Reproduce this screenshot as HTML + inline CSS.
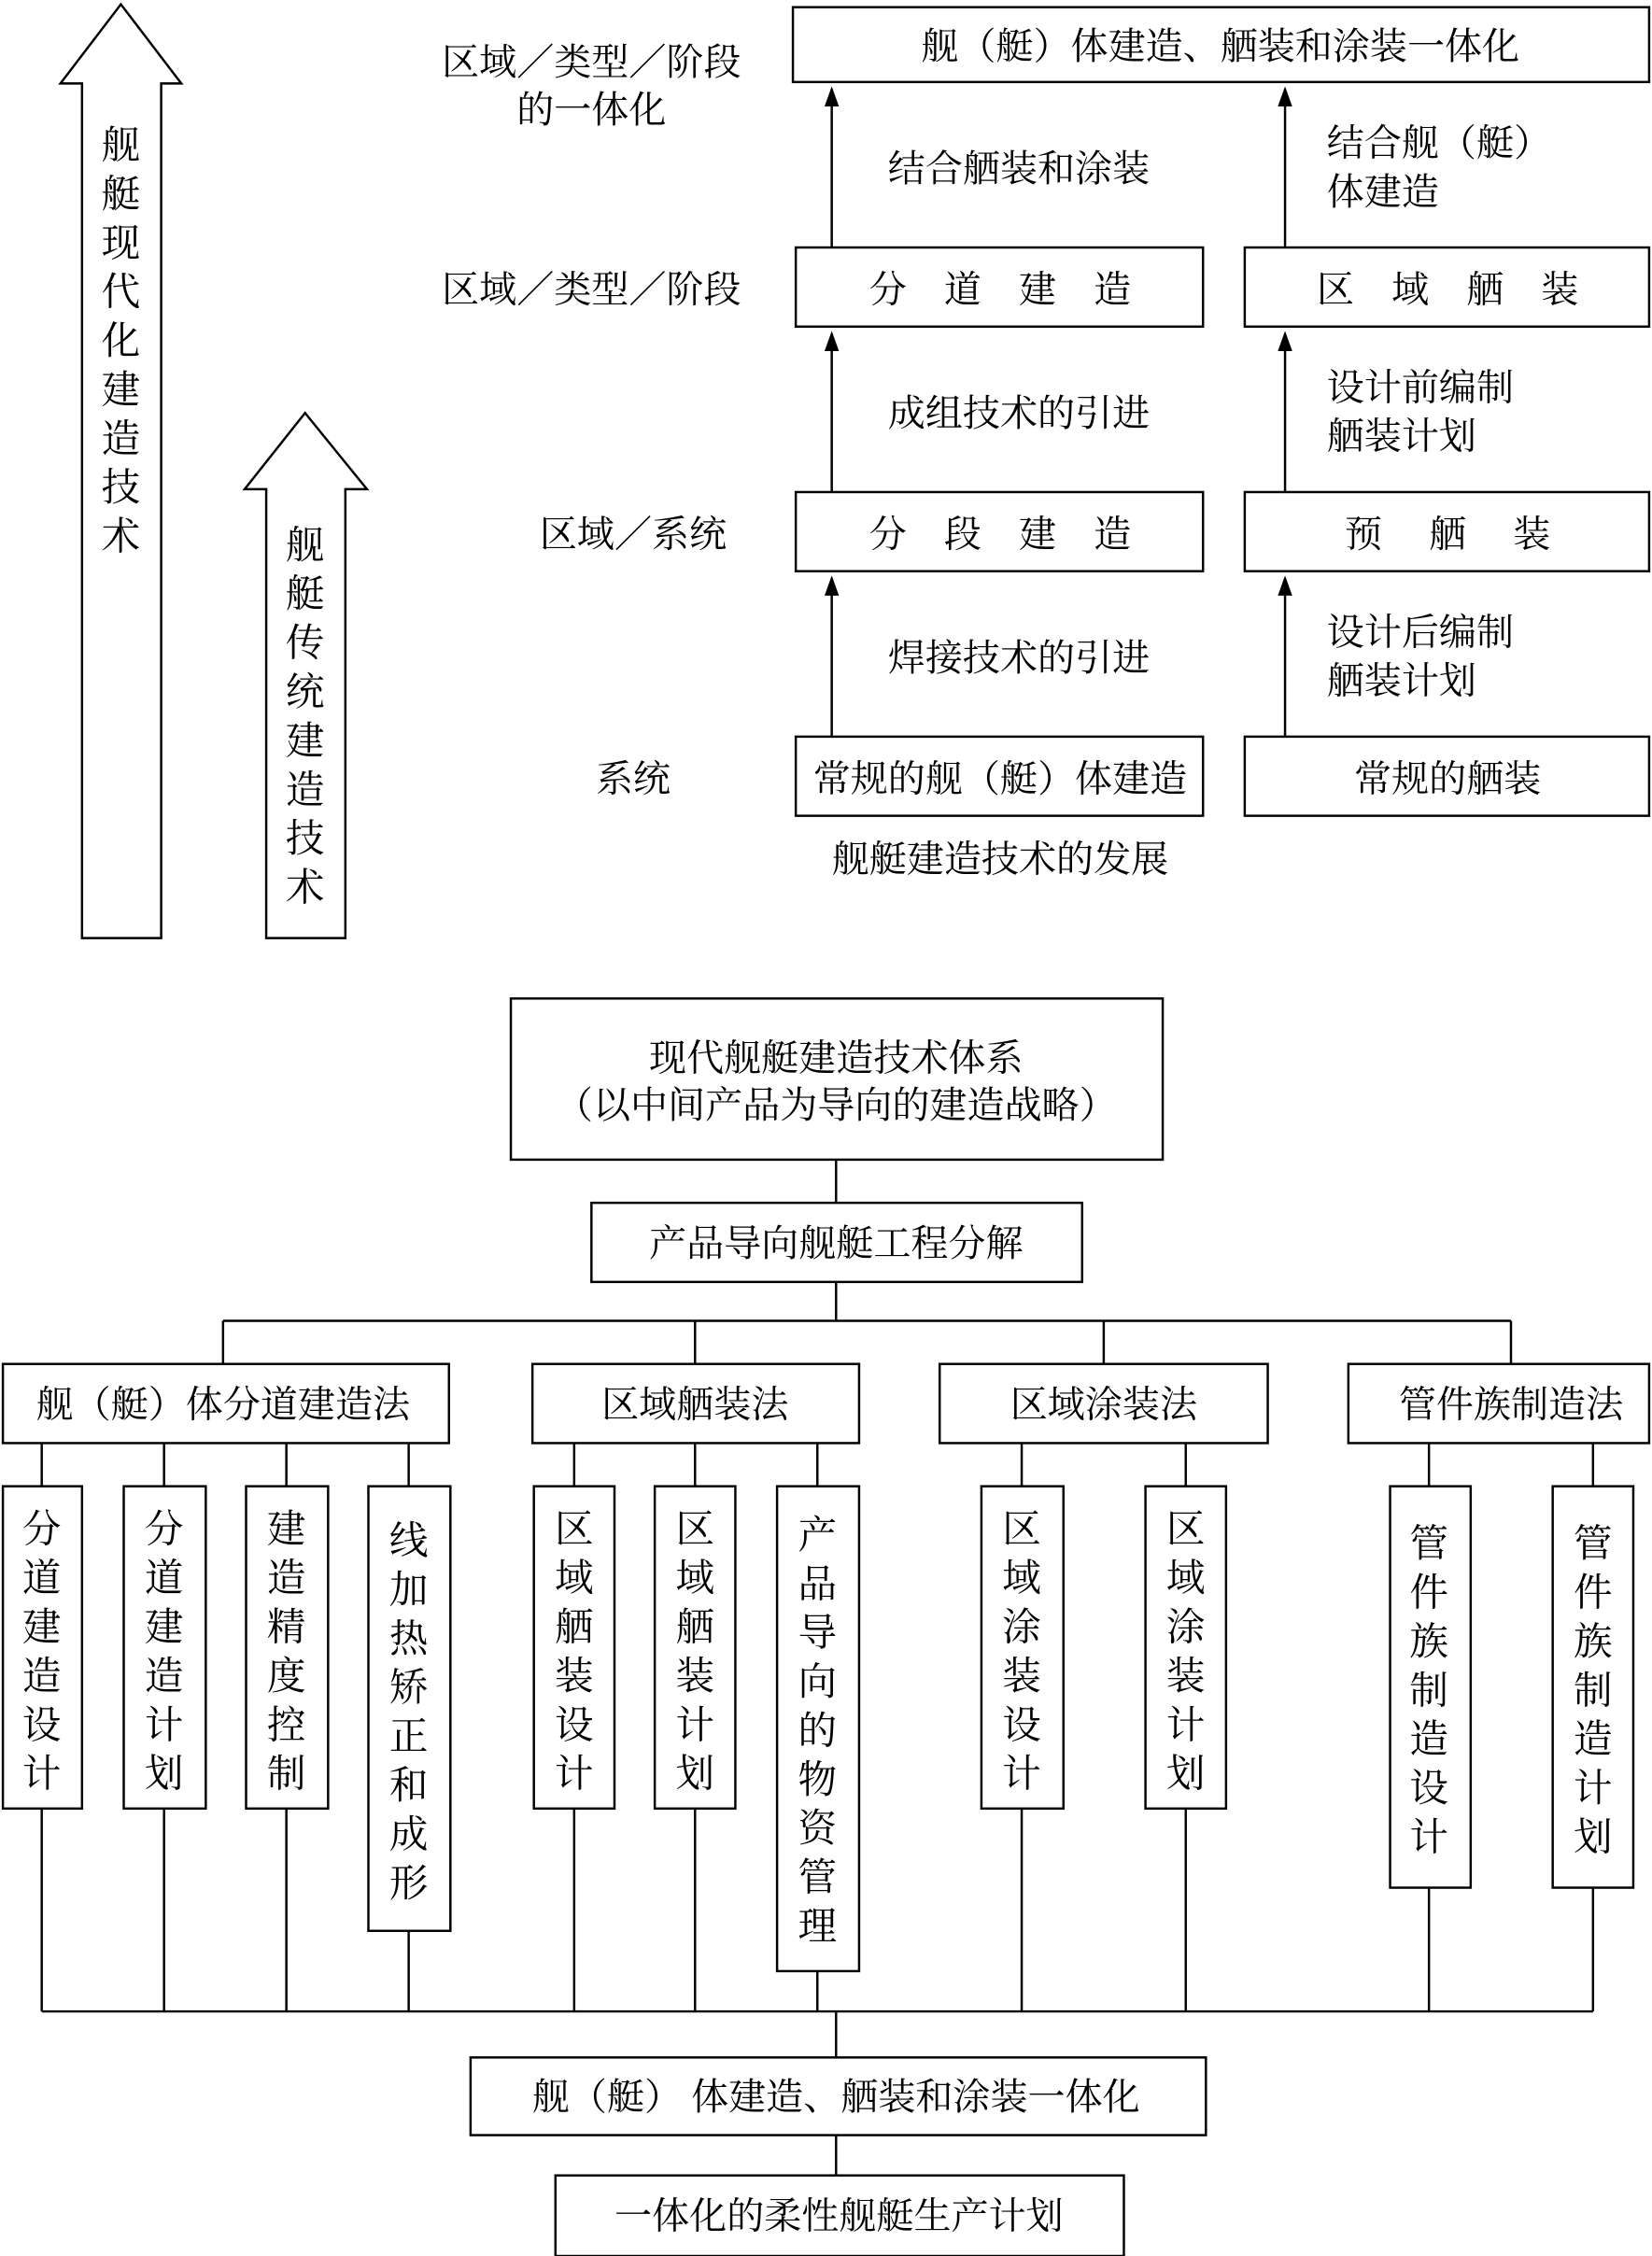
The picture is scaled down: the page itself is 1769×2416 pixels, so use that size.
<!DOCTYPE html>
<html><head><meta charset="utf-8">
<style>
html,body{margin:0;padding:0;background:#fff;}
svg{display:block;}
text{font-family:"Liberation Serif","Noto Serif CJK SC","Noto Sans CJK SC",serif;fill:#000;}
</style></head><body>
<svg width="1769" height="2416" viewBox="0 0 1148 1568" preserveAspectRatio="none" xmlns="http://www.w3.org/2000/svg">
<g fill="none" stroke="#000" stroke-width="1.6">
<!-- big arrows -->
<polygon points="84,3 126,58 112,58 112,652 57,652 57,58 42,58"/>
<polygon points="212,287 255,340 240,340 240,652 185,652 185,340 170,340"/>
<!-- top boxes -->
<rect x="551" y="5" width="595" height="52"/>
<rect x="553" y="172" width="283" height="55"/>
<rect x="865" y="172" width="281" height="55"/>
<rect x="553" y="342" width="283" height="55"/>
<rect x="865" y="342" width="281" height="55"/>
<rect x="553" y="512" width="283" height="55"/>
<rect x="865" y="512" width="281" height="55"/>
<!-- arrows -->
<line x1="578" y1="172" x2="578" y2="62"/><line x1="893" y1="172" x2="893" y2="62"/>
<line x1="578" y1="342" x2="578" y2="232"/><line x1="893" y1="342" x2="893" y2="232"/>
<line x1="578" y1="512" x2="578" y2="402"/><line x1="893" y1="512" x2="893" y2="402"/>
<!-- bottom -->
<rect x="355" y="694" width="453" height="112"/>
<line x1="581" y1="806" x2="581" y2="836"/>
<rect x="411" y="836" width="341" height="55"/>
<line x1="581" y1="891" x2="581" y2="918"/>
<line x1="155" y1="918" x2="1050" y2="918"/>
<line x1="155" y1="918" x2="155" y2="948"/><line x1="483" y1="918" x2="483" y2="948"/>
<line x1="767" y1="918" x2="767" y2="948"/><line x1="1050" y1="918" x2="1050" y2="948"/>
<rect x="2" y="948" width="310" height="55"/>
<rect x="370" y="948" width="227" height="55"/>
<rect x="653" y="948" width="228" height="55"/>
<rect x="937" y="948" width="209" height="55"/>
<!-- sub boxes -->
<rect x="2" y="1033" width="55" height="224"/>
<rect x="86" y="1033" width="57" height="224"/>
<rect x="171" y="1033" width="57" height="224"/>
<rect x="256" y="1033" width="57" height="309"/>
<rect x="371" y="1033" width="56" height="224"/>
<rect x="455" y="1033" width="56" height="224"/>
<rect x="540" y="1033" width="57" height="337"/>
<rect x="682" y="1033" width="57" height="224"/>
<rect x="796" y="1033" width="56" height="224"/>
<rect x="966" y="1033" width="56" height="279"/>
<rect x="1079" y="1033" width="56" height="279"/>
<!-- top connectors -->
<line x1="29" y1="1003" x2="29" y2="1033"/><line x1="114" y1="1003" x2="114" y2="1033"/>
<line x1="199" y1="1003" x2="199" y2="1033"/><line x1="284" y1="1003" x2="284" y2="1033"/>
<line x1="399" y1="1003" x2="399" y2="1033"/><line x1="483" y1="1003" x2="483" y2="1033"/>
<line x1="568" y1="1003" x2="568" y2="1033"/><line x1="710" y1="1003" x2="710" y2="1033"/>
<line x1="824" y1="1003" x2="824" y2="1033"/><line x1="993" y1="1003" x2="993" y2="1033"/>
<line x1="1107" y1="1003" x2="1107" y2="1033"/>
<!-- bottom connectors -->
<line x1="29" y1="1257" x2="29" y2="1398"/><line x1="114" y1="1257" x2="114" y2="1398"/>
<line x1="199" y1="1257" x2="199" y2="1398"/><line x1="284" y1="1342" x2="284" y2="1398"/>
<line x1="399" y1="1257" x2="399" y2="1398"/><line x1="483" y1="1257" x2="483" y2="1398"/>
<line x1="568" y1="1370" x2="568" y2="1398"/><line x1="710" y1="1257" x2="710" y2="1398"/>
<line x1="824" y1="1257" x2="824" y2="1398"/><line x1="993" y1="1312" x2="993" y2="1398"/>
<line x1="1107" y1="1312" x2="1107" y2="1398"/>
<line x1="29" y1="1398" x2="1107" y2="1398"/>
<line x1="581" y1="1398" x2="581" y2="1430"/>
<rect x="327" y="1430" width="511" height="54"/>
<line x1="581" y1="1484" x2="581" y2="1512"/>
<rect x="386" y="1512" width="395" height="56"/>
</g>
<g fill="#000">
<polygon points="578,60 573,74 583,74"/><polygon points="893,60 888,74 898,74"/>
<polygon points="578,230 573,244 583,244"/><polygon points="893,230 888,244 898,244"/>
<polygon points="578,400 573,414 583,414"/><polygon points="893,400 888,414 898,414"/>
</g>
<g font-size="26" text-anchor="middle">
<!-- vertical arrow text -->
<g font-size="27">
<text x="84" y="110">舰</text><text x="84" y="144">艇</text><text x="84" y="178">现</text><text x="84" y="212">代</text><text x="84" y="246">化</text><text x="84" y="280">建</text><text x="84" y="314">造</text><text x="84" y="348">技</text><text x="84" y="382">术</text>
<text x="212" y="388">舰</text><text x="212" y="422">艇</text><text x="212" y="456">传</text><text x="212" y="490">统</text><text x="212" y="524">建</text><text x="212" y="558">造</text><text x="212" y="592">技</text><text x="212" y="626">术</text>
</g>
<text x="411" y="52">区域／类型／阶段</text>
<text x="411" y="85">的一体化</text>
<text x="411" y="210">区域／类型／阶段</text>
<text x="440" y="380">区域／系统</text>
<text x="440" y="550">系统</text>
<text x="848" y="41">舰（艇）体建造、舾装和涂装一体化</text>
<text x="695" y="210">分　道　建　造</text>
<text x="1006" y="210">区　域　舾　装</text>
<text x="695" y="380">分　段　建　造</text>
<text x="1006" y="380">预　 舾　 装</text>
<text x="695" y="550">常规的舰（艇）体建造</text>
<text x="1006" y="550">常规的舾装</text>
<text x="708" y="126">结合舾装和涂装</text>
<text x="708" y="296">成组技术的引进</text>
<text x="708" y="466">焊接技术的引进</text>
<g text-anchor="start">
<text x="922" y="108">结合舰（艇）</text><text x="922" y="142">体建造</text>
<text x="922" y="278">设计前编制</text><text x="922" y="312">舾装计划</text>
<text x="922" y="448">设计后编制</text><text x="922" y="482">舾装计划</text>
</g>
<text x="695" y="606">舰艇建造技术的发展</text>
<text x="581" y="744">现代舰艇建造技术体系</text>
<text x="581" y="777">（以中间产品为导向的建造战略）</text>
<text x="581" y="873">产品导向舰艇工程分解</text>
<text x="155" y="985">舰（艇）体分道建造法</text>
<text x="483" y="985">区域舾装法</text>
<text x="767" y="985">区域涂装法</text>
<text x="1050" y="985">管件族制造法</text>
<text x="581" y="1466">舰（艇） 体建造、舾装和涂装一体化</text>
<text x="583" y="1549">一体化的柔性舰艇生产计划</text>
<!-- vertical sub text -->
<g font-size="27">
<text x="29" y="1072">分</text><text x="29" y="1106">道</text><text x="29" y="1140">建</text><text x="29" y="1174">造</text><text x="29" y="1208">设</text><text x="29" y="1242">计</text>
<text x="114" y="1072">分</text><text x="114" y="1106">道</text><text x="114" y="1140">建</text><text x="114" y="1174">造</text><text x="114" y="1208">计</text><text x="114" y="1242">划</text>
<text x="199" y="1072">建</text><text x="199" y="1106">造</text><text x="199" y="1140">精</text><text x="199" y="1174">度</text><text x="199" y="1208">控</text><text x="199" y="1242">制</text>
<text x="284" y="1080">线</text><text x="284" y="1114">加</text><text x="284" y="1148">热</text><text x="284" y="1182">矫</text><text x="284" y="1216">正</text><text x="284" y="1250">和</text><text x="284" y="1284">成</text><text x="284" y="1318">形</text>
<text x="399" y="1072">区</text><text x="399" y="1106">域</text><text x="399" y="1140">舾</text><text x="399" y="1174">装</text><text x="399" y="1208">设</text><text x="399" y="1242">计</text>
<text x="483" y="1072">区</text><text x="483" y="1106">域</text><text x="483" y="1140">舾</text><text x="483" y="1174">装</text><text x="483" y="1208">计</text><text x="483" y="1242">划</text>
<text x="568" y="1076">产</text><text x="568" y="1110">品</text><text x="568" y="1144">导</text><text x="568" y="1178">向</text><text x="568" y="1212">的</text><text x="568" y="1246">物</text><text x="568" y="1280">资</text><text x="568" y="1314">管</text><text x="568" y="1348">理</text>
<text x="710" y="1072">区</text><text x="710" y="1106">域</text><text x="710" y="1140">涂</text><text x="710" y="1174">装</text><text x="710" y="1208">设</text><text x="710" y="1242">计</text>
<text x="824" y="1072">区</text><text x="824" y="1106">域</text><text x="824" y="1140">涂</text><text x="824" y="1174">装</text><text x="824" y="1208">计</text><text x="824" y="1242">划</text>
<text x="993" y="1082">管</text><text x="993" y="1116">件</text><text x="993" y="1150">族</text><text x="993" y="1184">制</text><text x="993" y="1218">造</text><text x="993" y="1252">设</text><text x="993" y="1286">计</text>
<text x="1107" y="1082">管</text><text x="1107" y="1116">件</text><text x="1107" y="1150">族</text><text x="1107" y="1184">制</text><text x="1107" y="1218">造</text><text x="1107" y="1252">计</text><text x="1107" y="1286">划</text>
</g>
</g>
</svg>
</body></html>
